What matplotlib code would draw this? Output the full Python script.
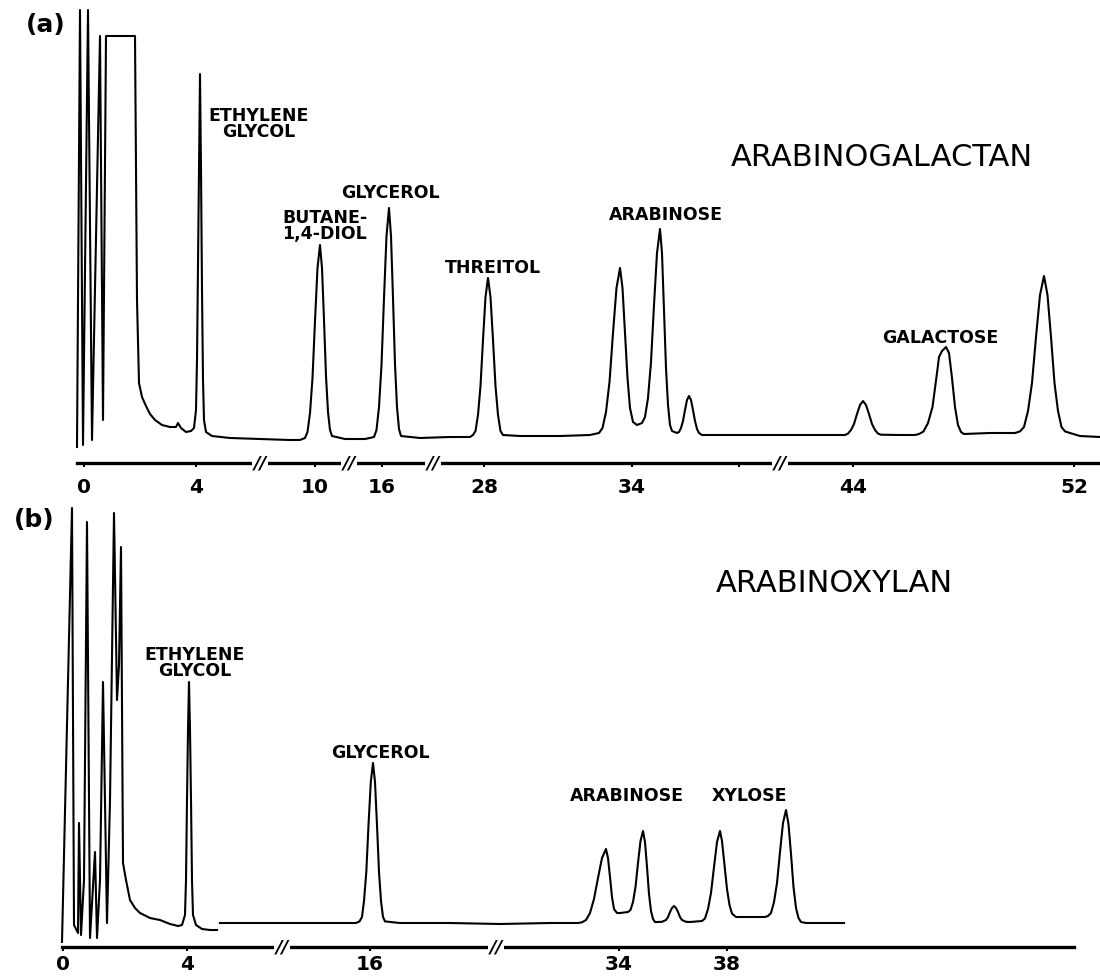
import matplotlib
matplotlib.use("Agg")
import matplotlib.pyplot as plt

plt.rcParams['font.family'] = ['DejaVu Sans']

# chart position along the paper (x) and pen deflection above the time axis (y)
# ---- (a) arabinogalactan ----
a_solvent = [(77, 16), (80, 453), (83, 18), (88, 453), (92, 23), (100, 427), (103, 43), (106, 427),
             (135, 427), (137, 163), (139, 80), (142, 66), (146, 57), (150, 49), (155, 43), (162, 38),
             (170, 36), (176, 36), (178, 40), (181, 35), (186, 31), (191, 32)]
a_ethylene_glycol = [(194, 35), (196, 53), (197, 103), (198, 193), (199, 293), (200, 389), (201, 293),
                     (202, 173), (203, 83), (204, 43), (206, 31), (212, 27), (230, 25), (260, 24),
                     (290, 23), (300, 23)]
a_butanediol = [(305, 25), (307.5, 31), (310, 50), (312.5, 85), (315, 142), (317.5, 195), (320, 218),
                (322, 195), (324, 143), (326, 87), (328, 51), (330, 33), (332, 27), (345, 24), (365, 24)]
a_glycerol = [(374, 26), (376.5, 33), (379, 56), (381.5, 98), (384, 165), (386.5, 227), (389, 255),
              (391, 227), (393, 165), (395, 99), (397, 56), (399, 34), (401, 27), (420, 25), (450, 26),
              (470, 26)]
a_threitol = [(473, 28), (475.5, 32), (478, 48), (480.5, 77), (483, 123), (485.5, 166), (488, 185),
              (490.5, 166), (493, 123), (495.5, 77), (498, 48), (500.5, 32), (503, 28), (520, 27),
              (560, 27), (590, 28)]
a_arabinose = [(599, 30), (602.5, 35), (606, 51), (609.5, 81), (613, 130), (616.5, 175), (620, 195),
               (622.5, 175), (625, 130), (627.5, 85), (630, 55), (633, 41), (637, 38),
               (642, 40), (645, 46), (648, 65), (651, 101), (654, 158), (657, 210), (660, 234),
               (662, 210), (664, 154), (666, 95), (668, 58), (670, 38), (672, 32)]
a_minor1 = [(677, 30), (679, 31), (681, 35), (683, 42), (685, 53), (687, 63), (689, 67), (691, 63),
            (693, 53), (695, 42), (697, 34), (699, 30), (702, 28), (730, 28), (780, 28), (830, 28),
            (845, 28)]
a_minor2 = [(848, 29.4), (851, 33), (854, 39), (857, 49), (860, 58), (863, 62), (866, 58), (869, 49),
            (872, 39), (875, 33), (878, 29.4), (881, 28.3), (900, 28), (915, 28)]
a_galactose = [(919, 29), (923.5, 31.5), (928, 40), (932.5, 56), (937, 90), (939, 106), (942, 112),
               (946, 116), (949, 110), (952, 85), (955, 56), (958, 38), (961, 31), (964, 29),
               (990, 30), (1015, 30)]
a_last = [(1020, 31.6), (1024, 36), (1028, 52), (1032, 80), (1036, 126), (1040, 168), (1044, 187),
          (1047.5, 168), (1051, 126), (1054.5, 80), (1058, 52), (1061.5, 36), (1065, 31.6),
          (1070, 30), (1080, 27), (1100, 26)]

a_tick_pos = [84, 196, 315, 382, 484, 632, 739, 853, 1074]
a_tick_lab = ['0', '4', '10', '16', '28', '34', '', '44', '52']
a_breaks = [260, 349, 433, 780]

a_labels = ['ETHYLENE\nGLYCOL', 'BUTANE-\n1,4-DIOL', 'GLYCEROL', 'THREITOL', 'ARABINOSE', 'GALACTOSE']
a_label_x = [259, 282, 390, 493, 666, 940]
a_label_y = [339, 237, 270, 195, 248, 125]
a_label_ha = ['center', 'left', 'center', 'center', 'center', 'center']

# ---- (b) arabinoxylan ----
b_solvent = [(62, 5), (72, 439), (74, 22), (78, 14), (79, 124), (81, 12), (84, 67), (87, 425), (90, 9),
             (95, 95), (97, 9), (100, 67), (103, 265), (107, 24), (110, 147), (114, 434), (117, 247),
             (119, 282), (121, 400), (123, 84), (126, 67), (130, 47), (135, 39), (140, 34), (150, 29),
             (160, 27), (170, 23), (178, 21)]
b_ethylene_glycol = [(182, 22), (185, 32), (186, 67), (187, 147), (188, 217), (189, 265), (190, 217),
                     (191, 147), (192, 67), (193, 32), (196, 22), (202, 18), (210, 17), (217, 17)]
# pen lifted here, trace starts again
b_glycerol = [(220, 24), (260, 24), (300, 24), (340, 24), (356, 24), (359.5, 25.6), (362, 30), (364, 46),
              (366.3, 75), (368.5, 122), (370.8, 165), (373, 184), (375, 165), (377, 122), (379, 75),
              (381, 46), (383, 30), (385, 25.6), (400, 24), (450, 24), (500, 23), (550, 24), (578, 24)]
b_arabinose = [(582, 24.7), (586, 27), (590, 34), (594, 48), (598, 69), (602, 89), (606, 98), (608, 89),
               (610, 70), (612, 50), (614, 38), (617, 34), (620, 34), (628, 35), (630.5, 37), (633, 45),
               (635.5, 60), (638, 84), (640.5, 106), (643, 116), (645, 105), (647, 80), (649, 53),
               (651, 36), (653, 28), (655, 25), (657, 25)]
b_minor = [(662, 25.2), (666, 27), (668, 30), (670, 35), (672, 39), (674, 41), (676, 39), (678, 35),
           (680, 30), (682, 27), (686, 25.2), (690, 25)]
b_xylose = [(702, 26), (705, 28.6), (708, 38), (711, 54), (714, 80), (717, 105), (720, 116), (722, 106),
            (724.5, 82), (727, 58), (729.5, 42), (732, 33.4), (736, 30), (750, 30), (765, 30)]
b_last = [(768, 31), (771, 34), (774, 45), (777, 64), (780, 95), (783, 124), (786, 137), (788.5, 123),
          (791, 93), (793.5, 60), (796, 39), (798.5, 29), (801, 25), (806, 24), (820, 24), (844, 24)]

b_tick_pos = [63, 187, 370, 619, 727]
b_tick_lab = ['0', '4', '16', '34', '38']
b_breaks = [282, 496]

b_labels = ['ETHYLENE\nGLYCOL', 'GLYCEROL', 'ARABINOSE', 'XYLOSE']
b_label_x = [195, 380, 627, 749]
b_label_y = [284, 194, 151, 151]


def draw_trace(ax, segments):
    xs = [p[0] for seg in segments for p in seg]
    ys = [p[1] for seg in segments for p in seg]
    ax.plot(xs, ys, color='black', lw=1.5, solid_joinstyle='round')


def time_axis(ax, x0, x1, ticks, labels, breaks, pad):
    for s in ['top', 'left', 'right']:
        ax.spines[s].set_visible(False)
    ax.spines['bottom'].set_position(('data', 0))
    ax.spines['bottom'].set_bounds(x0, x1)
    ax.spines['bottom'].set_linewidth(2.4)
    ax.set_yticks([])
    ax.set_xticks(ticks, labels)
    ax.tick_params(axis='x', direction='out', length=3, width=1.5, pad=pad, labelsize=14.5)
    for t in ax.get_xticklabels():
        t.set_fontweight('bold')
    for b in breaks:
        ax.text(b, 0, '//', ha='center', va='center', fontsize=13, fontweight='bold',
                fontstyle='italic', bbox=dict(fc='white', ec='none', pad=0.6), zorder=5)


fig = plt.figure(figsize=(11, 9.76), dpi=100)
ax_a = fig.add_axes([0, 1 - 500 / 976, 1, 500 / 976])
ax_b = fig.add_axes([0, 0, 1, 476 / 976])

ax_a.set_xlim(0, 1100)
ax_a.set_ylim(-37, 463)
ax_b.set_xlim(0, 1100)
ax_b.set_ylim(-29, 447)

draw_trace(ax_a, [a_solvent, a_ethylene_glycol, a_butanediol, a_glycerol, a_threitol,
                  a_arabinose, a_minor1, a_minor2, a_galactose, a_last])
draw_trace(ax_b, [b_solvent, b_ethylene_glycol])
draw_trace(ax_b, [b_glycerol, b_arabinose, b_minor, b_xylose, b_last])

time_axis(ax_a, 77, 1100, a_tick_pos, a_tick_lab, a_breaks, 7.5)
time_axis(ax_b, 62, 1074, b_tick_pos, b_tick_lab, b_breaks, 2.5)

for txt, x, y, ha in zip(a_labels, a_label_x, a_label_y, a_label_ha):
    ax_a.text(x, y, txt, ha=ha, va='center', fontsize=12.5, fontweight='bold', linespacing=0.85)
for txt, x, y in zip(b_labels, b_label_x, b_label_y):
    ax_b.text(x, y, txt, ha='center', va='center', fontsize=12.5, fontweight='bold', linespacing=0.85)

ax_a.text(882, 306, 'ARABINOGALACTAN', ha='center', va='center', fontsize=22)
ax_b.text(834, 364, 'ARABINOXYLAN', ha='center', va='center', fontsize=22)

ax_a.text(46, 438, '(a)', ha='center', va='center', fontsize=18, fontweight='bold')
ax_b.text(34, 427, '(b)', ha='center', va='center', fontsize=18, fontweight='bold')

fig.savefig('out.png', dpi=100, facecolor='white')
